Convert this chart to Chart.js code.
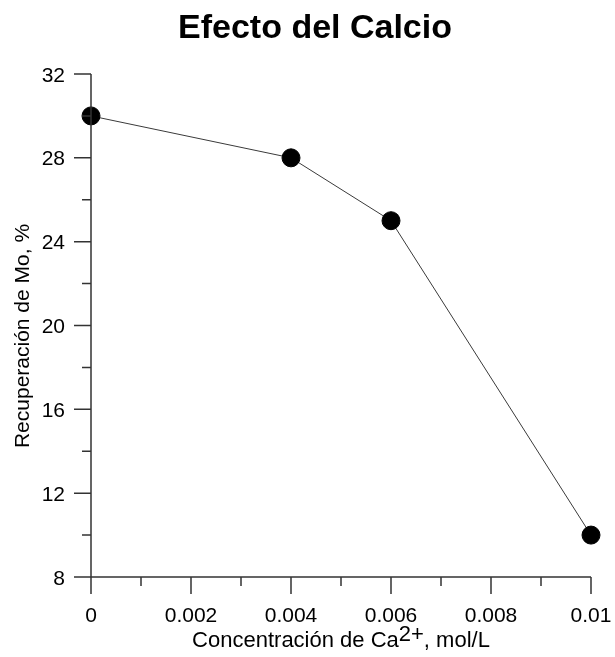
<!DOCTYPE html>
<html>
<head>
<meta charset="utf-8">
<style>
  html, body { margin: 0; padding: 0; background: #ffffff; }
  #wrap { width: 615px; height: 657px; position: relative; }
</style>
<script src="https://cdn.jsdelivr.net/npm/chart.js@4/dist/chart.umd.min.js"></script>
</head>
<body>
<div id="wrap"><canvas id="chart" width="615" height="657"></canvas></div>
<script>
// Calcium concentration (mol/L) and Mo recovery (%)
const calcium = [0, 0.004, 0.006, 0.01];
const recovery = [30, 28, 25, 10];

// Axis ticks
const xMajorTicks = [0, 0.002, 0.004, 0.006, 0.008, 0.01];
const xMinorTicks = [0.001, 0.003, 0.005, 0.007, 0.009];
const xTickLabels = ['0', '0.002', '0.004', '0.006', '0.008', '0.01'];
const yMajorTicks = [8, 12, 16, 20, 24, 28, 32];
const yMinorTicks = [10, 14, 18, 22, 26, 30];
const yTickLabels = ['8', '12', '16', '20', '24', '28', '32'];

const chartTitle = 'Efecto del Calcio';
const yTitle = 'Recuperación de Mo, %';
const xTitleParts = ['Concentración de Ca', '2+', ', mol/L'];

const FONT = '"Liberation Sans", Arial, Helvetica, sans-serif';
const AXIS_COLOR = '#333333';

// Axis lines, major/minor tick marks, tick labels and titles
const decorations = {
  id: 'decorations',
  afterDraw(chart) {
    const { ctx, chartArea, scales } = chart;
    const xs = scales.x, ys = scales.y;
    const left = chartArea.left, bottom = chartArea.bottom;
    const xEnd = xs.getPixelForValue(xs.max);
    const yTop = ys.getPixelForValue(ys.max);
    const majorLen = 17, minorLen = 9;
    ctx.save();
    ctx.strokeStyle = AXIS_COLOR;
    ctx.lineWidth = 1.5;
    ctx.beginPath();
    // y axis line, continued down to the end of the x major ticks
    ctx.moveTo(left, yTop);
    ctx.lineTo(left, bottom + majorLen);
    // x axis line, continued left to the end of the y major ticks
    ctx.moveTo(left - majorLen, bottom);
    ctx.lineTo(xEnd, bottom);
    xMajorTicks.forEach(v => {
      const px = xs.getPixelForValue(v);
      ctx.moveTo(px, bottom);
      ctx.lineTo(px, bottom + majorLen);
    });
    xMinorTicks.forEach(v => {
      const px = xs.getPixelForValue(v);
      ctx.moveTo(px, bottom);
      ctx.lineTo(px, bottom + minorLen);
    });
    yMajorTicks.forEach(v => {
      const py = ys.getPixelForValue(v);
      ctx.moveTo(left, py);
      ctx.lineTo(left - majorLen, py);
    });
    yMinorTicks.forEach(v => {
      const py = ys.getPixelForValue(v);
      ctx.moveTo(left, py);
      ctx.lineTo(left - minorLen, py);
    });
    ctx.stroke();

    ctx.fillStyle = '#000000';

    // tick labels
    ctx.font = '21px ' + FONT;
    ctx.textBaseline = 'alphabetic';
    ctx.textAlign = 'center';
    xMajorTicks.forEach((v, i) => {
      ctx.fillText(xTickLabels[i], xs.getPixelForValue(v), bottom + 45);
    });
    ctx.textAlign = 'right';
    yMajorTicks.forEach((v, i) => {
      ctx.fillText(yTickLabels[i], left - 26, ys.getPixelForValue(v) + 7.5);
    });

    // main title
    ctx.font = 'bold 34px ' + FONT;
    ctx.textAlign = 'center';
    ctx.fillText(chartTitle, 315, 38);

    // y axis title
    ctx.save();
    ctx.translate(29, 336);
    ctx.rotate(-Math.PI / 2);
    ctx.font = '21px ' + FONT;
    ctx.textAlign = 'center';
    ctx.fillText(yTitle, 0, 0);
    ctx.restore();

    // x axis title with the superscript charge
    ctx.font = '22px ' + FONT;
    ctx.textAlign = 'left';
    const w0 = ctx.measureText(xTitleParts[0]).width;
    const w1 = ctx.measureText(xTitleParts[1]).width;
    const w2 = ctx.measureText(xTitleParts[2]).width;
    const cx = (left + xEnd) / 2;
    const x0 = cx - (w0 + w1 + w2) / 2;
    const base = 647;
    ctx.fillText(xTitleParts[0], x0, base);
    ctx.fillText(xTitleParts[1], x0 + w0, base - 6);
    ctx.fillText(xTitleParts[2], x0 + w0 + w1, base);
    ctx.restore();
  }
};

new Chart(document.getElementById('chart'), {
  type: 'line',
  data: {
    datasets: [{
      data: calcium.map((c, i) => ({ x: c, y: recovery[i] })),
      borderColor: '#3a3a3a',
      borderWidth: 1,
      backgroundColor: '#000000',
      pointBackgroundColor: '#000000',
      pointBorderColor: '#000000',
      pointRadius: 9,
      pointHoverRadius: 9,
      tension: 0,
      fill: false,
      clip: false
    }]
  },
  options: {
    responsive: false,
    animation: false,
    devicePixelRatio: 1,
    layout: { padding: { top: 74, right: 24, bottom: 0, left: 0 } },
    plugins: {
      legend: { display: false },
      title: { display: false },
      tooltip: { enabled: false }
    },
    scales: {
      x: {
        type: 'linear',
        min: 0,
        max: 0.01,
        afterFit(scale) { scale.height = 80; },
        grid: { display: false, drawTicks: false },
        border: { display: false },
        ticks: { display: false }
      },
      y: {
        type: 'linear',
        min: 8,
        max: 32,
        afterFit(scale) { scale.width = 91; },
        grid: { display: false, drawTicks: false },
        border: { display: false },
        ticks: { display: false }
      }
    }
  },
  plugins: [decorations]
});
</script>
</body>
</html>
